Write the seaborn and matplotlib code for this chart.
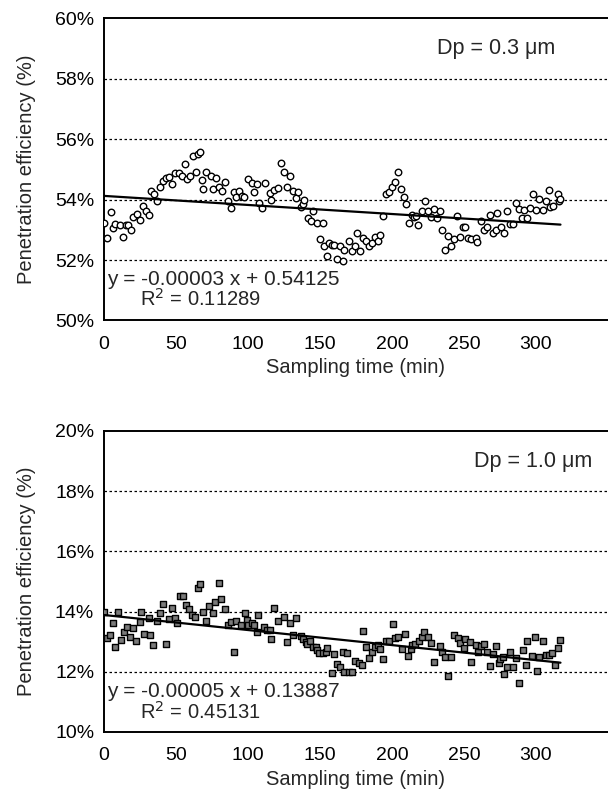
import matplotlib
matplotlib.use("Agg")
import matplotlib.pyplot as plt
import seaborn as sns
import numpy as np
import pandas as pd
from matplotlib.ticker import PercentFormatter, MultipleLocator

# Dp = 0.3 um : sampling time (min) and penetration efficiency (%)
t_03 = [0, 2, 5, 6, 8, 11, 13, 15, 17, 19, 20, 23, 25, 27, 29, 31, 33, 35, 37, 39,
        41, 43, 45, 47, 49, 52, 54, 56, 58, 60, 62, 64, 65, 67, 68, 69, 71, 74, 76, 78,
        80, 82, 84, 86, 88, 90, 92, 94, 96, 97, 100, 103, 104, 106, 108, 110, 112, 115, 116, 118,
        121, 123, 125, 127, 129, 131, 133, 135, 137, 138, 139, 142, 144, 145, 148, 150, 152, 153, 155, 156,
        158, 160, 162, 164, 166, 167, 170, 172, 174, 176, 178, 180, 182, 184, 186, 188, 190, 192, 194, 196,
        198, 200, 202, 204, 206, 208, 210, 212, 214, 215, 217, 218, 221, 223, 225, 227, 229, 231, 233, 235,
        237, 239, 241, 243, 245, 247, 249, 251, 253, 255, 258, 259, 262, 264, 266, 268, 270, 272, 273, 276,
        278, 280, 282, 284, 286, 288, 290, 292, 294, 296, 298, 300, 302, 305, 307, 309, 310, 312, 315, 316,
        317]
pe_03 = [53.24, 52.73, 53.60, 53.06, 53.19, 53.16, 52.76, 53.15, 53.15, 53.00, 53.42, 53.53, 53.33, 53.80, 53.64, 53.49, 54.29, 54.18, 53.97, 54.43,
         54.62, 54.73, 54.76, 54.52, 54.87, 54.87, 54.79, 55.19, 54.68, 54.79, 55.45, 54.90, 55.51, 55.59, 54.65, 54.36, 54.90, 54.79, 54.36, 54.73,
         54.41, 54.29, 54.60, 53.94, 53.74, 54.25, 54.10, 54.30, 54.12, 54.08, 54.69, 54.54, 54.24, 54.52, 53.90, 53.72, 54.54, 54.21, 53.99, 54.32,
         54.38, 55.20, 54.91, 54.41, 54.79, 54.29, 54.07, 54.24, 53.77, 53.86, 53.99, 53.39, 53.28, 53.64, 53.24, 52.71, 53.24, 52.45, 52.15, 52.56,
         52.51, 52.51, 52.04, 52.48, 51.98, 52.34, 52.62, 52.29, 52.45, 52.91, 52.29, 52.73, 52.62, 52.45, 52.58, 52.76, 52.62, 52.84, 53.47, 54.18,
         54.27, 54.43, 54.58, 54.91, 54.36, 54.08, 53.86, 53.22, 53.50, 53.44, 53.45, 53.17, 53.61, 53.96, 53.64, 53.42, 53.69, 53.39, 53.61, 53.00,
         52.32, 52.81, 52.48, 52.70, 53.47, 52.78, 53.11, 53.11, 52.73, 52.71, 52.73, 52.60, 53.28, 53.00, 53.11, 53.50, 52.89, 53.00, 53.55, 53.08,
         52.91, 53.61, 53.20, 53.20, 53.90, 53.69, 53.39, 53.67, 53.39, 53.72, 54.18, 53.67, 54.03, 53.67, 53.94, 54.32, 53.75, 53.79, 54.18, 53.94,
         54.02]

# Dp = 1.0 um
t_10 = [0, 2, 4, 6, 8, 10, 12, 14, 16, 18, 20, 22, 25, 26, 28, 31, 32, 34, 37, 39,
        41, 43, 45, 47, 49, 51, 53, 55, 57, 59, 61, 63, 65, 67, 69, 71, 73, 76, 77, 80,
        81, 84, 86, 88, 90, 92, 95, 98, 99, 100, 103, 104, 106, 107, 111, 113, 115, 116, 118, 121,
        125, 127, 129, 131, 133, 137, 138, 140, 141, 143, 145, 147, 148, 149, 152, 154, 155, 158, 160, 162,
        164, 166, 167, 169, 170, 172, 174, 177, 179, 180, 182, 184, 186, 188, 190, 192, 194, 196, 198, 201,
        202, 204, 207, 209, 211, 213, 214, 216, 219, 221, 222, 225, 227, 229, 233, 235, 237, 239, 241, 243,
        246, 247, 250, 251, 254, 255, 258, 260, 262, 264, 266, 268, 270, 272, 274, 275, 277, 278, 280, 282,
        284, 286, 288, 291, 293, 294, 297, 299, 301, 302, 305, 307, 309, 311, 313, 315, 317]
pe_10 = [13.98, 13.11, 13.22, 13.61, 12.81, 13.98, 13.06, 13.33, 13.48, 13.15, 13.44, 13.03, 13.66, 13.98, 13.26, 13.80, 13.22, 12.89, 13.70, 13.94,
         14.24, 12.92, 13.74, 14.13, 13.78, 13.63, 14.52, 14.52, 14.22, 14.08, 13.89, 13.83, 14.77, 14.92, 14.00, 13.69, 14.19, 13.94, 14.33, 14.96,
         14.41, 14.08, 13.55, 13.66, 12.67, 13.70, 13.55, 13.94, 13.72, 13.55, 13.61, 13.55, 13.33, 13.89, 13.50, 13.39, 13.39, 13.09, 14.11, 13.70,
         13.83, 13.00, 13.63, 13.22, 13.78, 13.19, 13.08, 13.00, 12.92, 13.03, 12.83, 12.83, 12.72, 12.61, 12.63, 12.67, 12.78, 11.97, 12.59, 12.26,
         12.15, 12.67, 12.00, 12.63, 12.00, 12.00, 12.37, 12.28, 12.23, 13.36, 12.83, 12.45, 12.67, 12.81, 12.89, 12.75, 12.42, 13.03, 13.03, 13.59,
         13.11, 13.15, 12.75, 13.26, 12.52, 12.75, 12.89, 12.92, 13.03, 13.15, 13.33, 13.17, 12.97, 12.34, 12.86, 12.67, 12.48, 11.86, 12.48, 13.22,
         13.11, 12.95, 12.78, 13.08, 13.00, 12.34, 12.89, 12.67, 12.86, 12.92, 12.67, 12.20, 12.59, 12.86, 12.30, 12.42, 12.48, 11.93, 12.15, 12.67,
         12.15, 12.45, 11.62, 12.72, 12.23, 13.03, 12.52, 13.17, 12.04, 12.50, 13.03, 12.56, 12.56, 12.61, 12.23, 12.78, 13.06]

labels = ["Dp = 0.3 \u03bcm", "Dp = 1.0 \u03bcm"]
slopes = [-0.00003, -0.00005]
intercepts = [0.54125, 0.13887]
r2 = ["0.11289", "0.45131"]
ylims = [(50, 60), (10, 20)]

sns.set_style("white")
plt.rcParams["font.family"] = ["Liberation Sans", "DejaVu Sans"]

fig = plt.figure(figsize=(6.08, 8.02), dpi=100)
ax1 = fig.add_axes([0.171, 0.6004, 0.829, 0.3766])
ax2 = fig.add_axes([0.171, 0.0873, 0.829, 0.3753])

panels = [
    (ax1, pd.DataFrame({"t": t_03, "pe": pe_03}), "o", "white", 22),
    (ax2, pd.DataFrame({"t": t_10, "pe": pe_10}), "s", "#7a7a7a", 22),
]
dp_pos = [(0.895, 0.902), (0.968, 0.898)]
eq_y = [(0.137, 0.072), (0.136, 0.066)]

for i, (ax, df, mk, fc, size) in enumerate(panels):
    sns.scatterplot(data=df, x="t", y="pe", ax=ax, marker=mk, s=size,
                    facecolor=fc, edgecolor="black", linewidth=1.0, zorder=3)
    tfit = np.array([0, df["t"].max()])
    fit = 100 * (slopes[i] * tfit + intercepts[i])
    sns.lineplot(x=tfit, y=fit, ax=ax, color="black", linewidth=1.6, zorder=4)

    ax.set_xlim(0, 350)
    ax.set_ylim(*ylims[i])
    ax.set_xticks([0, 50, 100, 150, 200, 250, 300])
    ax.yaxis.set_major_locator(MultipleLocator(2))
    ax.yaxis.set_major_formatter(PercentFormatter(xmax=100, decimals=0))
    ax.tick_params(direction="in", length=4, width=1.2, labelsize=14,
                   colors="black", pad=7)
    ax.tick_params(axis="x", pad=11)
    lo, hi = ylims[i]
    for g in range(lo + 2, hi, 2):
        ax.axhline(g, color="black", linestyle=(0, (2, 2)), linewidth=0.9, zorder=1)
    for side in ["left", "bottom", "top"]:
        ax.spines[side].set_color("black")
        ax.spines[side].set_linewidth(1.4)
    ax.spines["right"].set_visible(False)

    ax.set_xlabel("Sampling time (min)", fontsize=14.5, labelpad=4)
    ax.set_ylabel("Penetration efficiency (%)", fontsize=14.5, labelpad=14)

    ax.text(dp_pos[i][0], dp_pos[i][1], labels[i], transform=ax.transAxes,
            ha="right", va="center", fontsize=15.5)
    ax.text(0.006, eq_y[i][0], "y = %.5f x + %.5f" % (slopes[i], intercepts[i]),
            transform=ax.transAxes, ha="left", va="center", fontsize=15)
    ax.text(0.071, eq_y[i][1], "R$^2$ = " + r2[i], transform=ax.transAxes,
            ha="left", va="center", fontsize=14.5)

fig.savefig("out.png", dpi=100)
